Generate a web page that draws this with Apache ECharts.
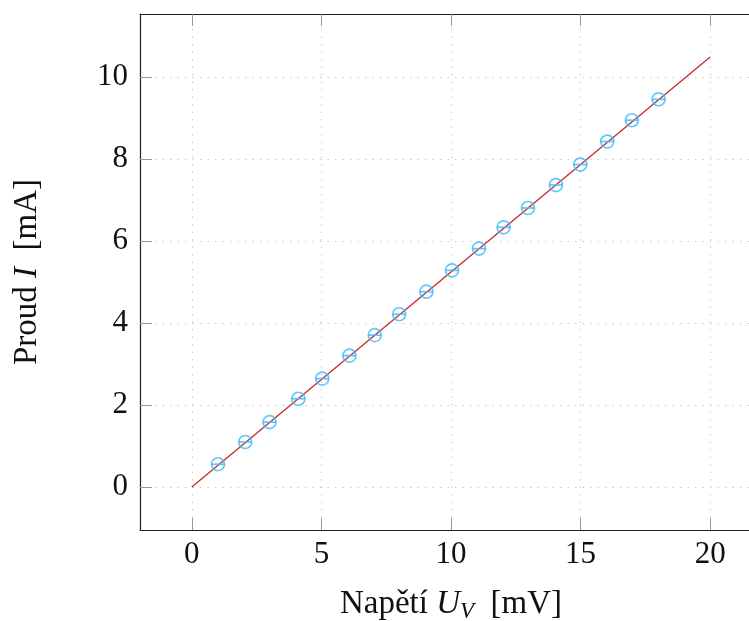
<!DOCTYPE html>
<html>
<head>
<meta charset="utf-8">
<script src="https://cdn.jsdelivr.net/npm/echarts@6/dist/echarts.min.js"></script>
<style>html,body{margin:0;padding:0;background:#fff}#c{width:749px;height:621px}</style>
</head>
<body>
<div id="c"></div>
<script>
// Measured data (voltage U_V in mV, current I in mA)
var voltage = [1.01, 2.06, 3.00, 4.11, 5.03, 6.08, 7.06, 8.00, 9.05, 10.04, 11.08, 12.03, 12.97, 14.05, 14.99, 16.03, 16.98, 18.01];
var current = [0.553, 1.096, 1.58, 2.15, 2.64, 3.20, 3.70, 4.21, 4.76, 5.28, 5.81, 6.33, 6.80, 7.36, 7.86, 8.42, 8.94, 9.45];
// Linear fit endpoints
var fitX = [0, 20];
var fitY = [0, 10.48];
// Tick labels
var xTicks = [0, 5, 10, 15, 20];
var yTicks = [0, 2, 4, 6, 8, 10];

var FONT = 'Liberation Serif';
var pts = voltage.map(function (v, i) { return [v, current[i]]; });
var fit = fitX.map(function (v, i) { return [v, fitY[i]]; });

var tickStyle = { show: true, inside: true, length: 12, lineStyle: { color: '#999', width: 1 } };
var gridLine = { show: true, lineStyle: { color: '#c8c8c8', width: 1, type: [1.5, 6] } };
var axisLineStyle = { show: true, onZero: false, lineStyle: { color: '#222', width: 1.2 } };

var chart = echarts.init(document.getElementById('c'), null, { renderer: 'canvas' });
chart.setOption({
  animation: false,
  backgroundColor: '#fff',
  grid: { left: 140, top: 14, right: -13, bottom: 91, containLabel: false, outerBoundsMode: 'none' },
  xAxis: [{
    type: 'value', min: -2, max: 22, position: 'bottom',
    axisLine: axisLineStyle,
    axisTick: Object.assign({ customValues: xTicks }, tickStyle),
    axisLabel: { customValues: xTicks, margin: 9, fontFamily: FONT, fontSize: 31, color: '#111' },
    splitLine: gridLine,
    name: '{n|Napětí }{i|U}{s|V}{n|  [mV]}',
    nameLocation: 'middle', nameGap: 56,
    nameTextStyle: {
      rich: {
        n: { fontFamily: FONT, fontSize: 33, color: '#111' },
        i: { fontFamily: FONT, fontSize: 33, fontStyle: 'italic', color: '#111' },
        s: { fontFamily: FONT, fontSize: 23, fontStyle: 'italic', color: '#111', padding: [14, 0, 0, 0] }
      }
    }
  }, {
    type: 'value', min: -2, max: 22, position: 'top',
    axisLine: axisLineStyle,
    axisTick: Object.assign({ customValues: xTicks }, tickStyle),
    axisLabel: { show: false },
    splitLine: { show: false }
  }],
  yAxis: [{
    type: 'value', min: -1.05, max: 11.53, position: 'left',
    axisLine: axisLineStyle,
    axisTick: Object.assign({ customValues: yTicks }, tickStyle),
    axisLabel: { customValues: yTicks, margin: 12, fontFamily: FONT, fontSize: 31, color: '#111' },
    splitLine: gridLine,
    name: '{n|Proud }{i|I}{n|  [mA]}',
    nameLocation: 'middle', nameGap: 96, nameRotate: 90,
    nameTextStyle: {
      rich: {
        n: { fontFamily: FONT, fontSize: 33, color: '#111' },
        i: { fontFamily: FONT, fontSize: 33, fontStyle: 'italic', color: '#111' }
      }
    }
  }],
  series: [{
    type: 'line', data: fit, symbol: 'none', z: 3,
    lineStyle: { color: '#c82828', width: 1.3 }
  }, {
    type: 'scatter', data: pts, symbol: 'circle', symbolSize: 13, z: 4,
    itemStyle: { color: 'rgba(0,0,0,0)', borderColor: '#3fbaf8', borderWidth: 1.7 }
  }, {
    type: 'scatter', data: pts, symbol: 'rect', symbolSize: [13.5, 1.8], z: 4,
    itemStyle: { color: '#3fbaf8' }
  }]
});
</script>
</body>
</html>
